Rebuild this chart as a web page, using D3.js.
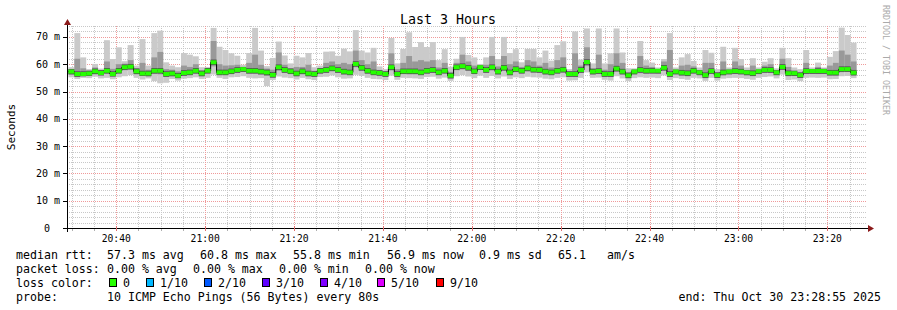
<!DOCTYPE html>
<html>
<head>
<meta charset="utf-8">
<script src="https://cdn.jsdelivr.net/npm/d3@7/dist/d3.min.js"></script>
<style>
body { margin: 0; background: #ffffff; }
text { font-family: "DejaVu Sans Mono", monospace; fill: #000; }
</style>
</head>
<body>
<script>
// ---------------------- data (ms) ----------------------
var graphStart = new Date(2025, 9, 30, 20, 28, 55);
var graphEnd   = new Date(2025, 9, 30, 23, 28, 55);
var firstBar   = new Date(2025, 9, 30, 20, 29, 14);
var stepSec    = 80;

var medianRtt = [57.3,56.4,56.4,56.6,57.4,56.8,57.6,56.4,57.6,58.9,
  59.1,57.4,56.6,56.6,57.6,57.6,56.4,56.6,55.8,56.8,
  57.0,57.6,56.6,57.6,60.7,57.0,57.0,57.4,57.9,58.2,
  57.6,57.6,57.3,57.0,56.1,58.9,57.9,57.4,56.6,57.4,
  56.6,56.4,57.6,57.9,58.5,57.9,57.3,57.0,60.1,58.7,
  57.6,57.0,56.8,56.4,58.9,56.4,57.4,57.4,57.4,57.0,
  57.6,57.9,57.0,57.6,55.8,58.9,59.3,58.7,57.4,58.9,
  57.9,58.9,57.3,58.7,57.0,58.2,57.6,58.5,58.0,57.9,
  57.3,57.0,57.6,58.0,56.4,56.4,57.9,60.8,57.3,57.5,
  56.4,56.4,58.4,57.3,55.9,57.3,57.9,57.6,57.6,57.6,
  58.7,56.4,57.3,56.9,56.7,57.6,57.0,56.0,57.5,56.0,
  57.0,57.3,57.5,57.3,57.0,56.7,57.4,57.9,57.9,57.0,
  59.0,56.7,56.7,56.0,57.5,57.5,57.5,57.5,56.9,56.9,
  58.2,58.2,56.9];

var pingMax = [58.9,71.4,62.5,58.2,60.1,58.4,68.8,61.9,66.2,61.1,
  67.0,59.5,69.2,59.5,71.4,72.3,60.7,59.5,58.9,64.1,
  63.5,62.9,58.9,59.0,73.3,66.4,65.2,64.0,63.1,59.8,
  64.1,73.3,65.0,59.3,62.3,68.3,63.2,60.3,63.1,62.5,
  64.1,58.9,59.5,64.6,64.7,63.1,65.7,64.7,72.5,65.0,
  64.3,66.0,59.2,58.2,69.6,60.3,65.6,71.7,66.3,68.1,
  66.3,68.1,61.5,65.5,59.1,62.0,70.0,63.4,62.5,60.1,
  62.5,70.0,61.9,70.0,64.1,65.5,60.7,65.6,65.6,62.5,
  65.0,61.3,67.0,68.4,58.2,72.0,61.7,73.1,60.3,73.1,
  60.3,64.0,73.1,64.3,58.5,58.5,68.5,61.5,60.6,58.8,
  61.9,71.4,58.8,62.5,63.7,61.2,58.8,65.2,64.2,58.2,
  66.4,58.8,66.0,61.9,58.8,62.2,58.8,60.9,62.2,58.5,
  66.0,62.2,58.8,58.2,65.2,58.8,60.6,58.8,62.7,64.8,
  73.4,70.7,67.9];

var pingHigh = [58.2,62.0,58.5,57.7,58.8,57.8,61.0,58.3,60.0,60.2,
  61.5,58.6,60.5,58.0,62.5,64.5,58.2,58.0,57.4,59.5,
  59.0,60.0,57.8,58.6,68.5,60.0,59.5,59.6,59.8,59.0,
  60.5,63.5,59.8,58.4,58.0,64.3,59.8,58.6,59.0,59.0,
  59.8,57.6,58.6,60.5,61.0,60.0,60.5,60.0,65.0,61.5,
  60.0,61.0,57.9,57.4,64.0,58.2,60.5,63.0,61.0,61.5,
  61.0,61.5,58.8,60.5,57.2,60.5,63.5,61.0,59.5,59.6,
  59.8,63.0,59.2,63.0,60.0,61.0,59.0,61.5,61.0,59.5,
  60.5,58.8,61.5,62.5,57.4,64.0,59.5,66.2,58.5,63.5,
  58.0,60.0,64.0,60.5,57.0,58.0,63.0,59.5,59.0,58.2,
  61.0,65.2,58.0,59.5,59.8,59.2,57.8,60.5,60.5,57.0,
  61.0,58.0,61.0,59.5,57.8,59.5,58.0,59.5,60.0,57.8,
  62.0,59.0,57.6,57.0,60.5,58.2,59.0,58.3,59.5,60.5,
  65.0,63.5,61.0];

var pingLow = [56.2,55.4,55.6,55.7,56.3,55.9,56.5,55.5,56.6,57.8,
  58.0,56.3,55.7,55.6,56.4,56.3,55.4,55.6,54.9,55.8,
  56.0,56.5,55.6,56.6,59.2,56.0,56.0,56.4,56.8,57.2,
  56.5,56.5,56.2,55.7,55.1,57.6,56.8,56.4,55.6,56.3,
  55.6,55.4,56.5,56.8,57.4,56.8,56.2,56.0,58.9,57.5,
  56.5,56.0,55.8,55.4,57.7,55.3,56.4,56.3,56.3,56.0,
  56.5,56.8,56.0,56.6,54.8,57.8,58.1,57.6,56.4,57.9,
  56.8,57.7,56.2,57.6,55.9,57.1,56.6,57.3,56.9,56.8,
  56.2,56.0,56.5,56.9,55.4,55.3,56.8,59.3,56.2,56.4,
  55.4,55.3,57.2,56.2,54.9,56.3,56.7,56.5,56.6,56.5,
  57.6,55.3,56.3,55.8,55.6,56.6,56.0,54.9,56.5,55.0,
  55.9,56.3,56.4,56.3,55.9,55.6,56.4,56.9,56.8,56.0,
  58.0,55.6,55.7,55.0,56.4,56.5,56.4,56.5,55.8,55.8,
  57.1,57.2,55.9];

var pingMin = [55.2,54.6,55.0,54.9,55.4,54.8,55.0,54.5,55.2,55.6,
  56.0,55.0,54.4,54.8,53.8,53.0,53.2,54.6,54.0,54.7,
  54.9,55.2,54.6,55.0,56.2,55.0,54.6,55.2,55.3,55.6,
  55.0,54.8,54.9,52.0,54.2,55.5,55.1,54.9,54.4,55.0,
  54.5,54.2,55.3,55.4,55.9,55.2,54.7,54.8,56.1,55.7,
  55.0,54.6,54.5,54.2,55.8,54.3,55.0,54.9,54.8,54.6,
  55.3,55.4,54.7,55.1,53.9,55.6,56.0,55.5,54.9,55.8,
  55.0,55.7,54.8,55.5,54.6,55.2,54.9,55.4,55.2,55.1,
  54.7,54.5,55.0,55.2,54.0,54.1,55.0,57.0,55.0,55.1,
  54.3,54.0,55.6,54.8,53.8,54.9,55.2,55.0,55.1,54.9,
  55.9,54.2,54.9,54.6,54.3,55.0,54.8,53.9,55.0,54.0,
  54.7,54.9,55.0,54.9,54.6,54.3,55.0,55.3,55.5,54.8,
  56.2,54.2,54.4,53.8,55.0,55.1,55.0,55.1,54.5,54.6,
  55.6,55.7,54.9];

var yTickValues = [0, 10, 20, 30, 40, 50, 60, 70];
var yTickLabels = ["0", "10 m", "20 m", "30 m", "40 m", "50 m", "60 m", "70 m"];

var lossColors = ["#26ff00", "#00b8ff", "#0059ff", "#5e00ff", "#7e00ff", "#dd00ff", "#ff0000"];
var lossLabels = ["0", "1/10", "2/10", "3/10", "4/10", "5/10", "9/10"];

var rttItems  = ["57.3 ms avg", "60.8 ms max", "55.8 ms min", "56.9 ms now", "0.9 ms sd", "65.1", "am/s"];
var lossItems = ["0.00 % avg", "0.00 % max", "0.00 % min", "0.00 % now"];

// ---------------------- canvas and scales ----------------------
var svg = d3.select("body")
     .append("svg")
     .attr("width", 897)
     .attr("height", 310);

svg.append("rect")
     .attr("width", 897)
     .attr("height", 310)
     .attr("fill", "#ffffff");

var x = d3.scaleTime().domain([graphStart, graphEnd]).range([67, 867]);
var y = d3.scaleLinear().domain([0, 74]).range([228, 26]);

// ---------------------- grid ----------------------
var minorT = x.ticks(d3.timeMinute.every(5));
var majorT = x.ticks(d3.timeMinute.every(20));
var minorV = d3.range(0, 75, 2);

var grid = svg.append("g");
grid.selectAll("line.hmin").data(minorV).enter().append("line")
     .attr("x1", 67).attr("x2", 867)
     .attr("y1", d => Math.round(y(d)) + 0.5).attr("y2", d => Math.round(y(d)) + 0.5)
     .attr("stroke", "#c8c8c8").attr("stroke-dasharray", "1,1");
grid.selectAll("line.vmin").data(minorT).enter().append("line")
     .attr("x1", d => Math.round(x(d)) + 0.5).attr("x2", d => Math.round(x(d)) + 0.5)
     .attr("y1", 26).attr("y2", 228)
     .attr("stroke", "#c8c8c8").attr("stroke-dasharray", "1,1");
grid.selectAll("line.hmaj").data(yTickValues).enter().append("line")
     .attr("x1", 67).attr("x2", 867)
     .attr("y1", d => Math.round(y(d)) + 0.5).attr("y2", d => Math.round(y(d)) + 0.5)
     .attr("stroke", "#f09a9a").attr("stroke-dasharray", "1,1");
grid.selectAll("line.vmaj").data(majorT).enter().append("line")
     .attr("x1", d => Math.round(x(d)) + 0.5).attr("x2", d => Math.round(x(d)) + 0.5)
     .attr("y1", 26).attr("y2", 228)
     .attr("stroke", "#f09a9a").attr("stroke-dasharray", "1,1");

// ---------------------- smoke ----------------------
function barX0(i) { return x(new Date(firstBar.getTime() + i * stepSec * 1000)); }
function barX1(i) { return x(new Date(firstBar.getTime() + (i + 1) * stepSec * 1000)); }

var smoke = svg.append("g");
smoke.selectAll("rect.outer").data(medianRtt).enter().append("rect")
     .attr("x", (d, i) => barX0(i)).attr("width", (d, i) => barX1(i) - barX0(i))
     .attr("y", (d, i) => y(pingMax[i])).attr("height", (d, i) => y(pingMin[i]) - y(pingMax[i]))
     .attr("fill", "#cacaca");
smoke.selectAll("rect.inner").data(medianRtt).enter().append("rect")
     .attr("x", (d, i) => barX0(i)).attr("width", (d, i) => barX1(i) - barX0(i))
     .attr("y", (d, i) => y(pingHigh[i])).attr("height", (d, i) => y(pingLow[i]) - y(pingHigh[i]))
     .attr("fill", "#999999");
smoke.selectAll("rect.core").data(medianRtt).enter().append("rect")
     .attr("x", (d, i) => barX0(i)).attr("width", (d, i) => barX1(i) - barX0(i))
     .attr("y", (d, i) => y(Math.min(pingHigh[i], d + 1.0)))
     .attr("height", (d, i) => y(Math.max(pingLow[i], d - 1.0)) - y(Math.min(pingHigh[i], d + 1.0)))
     .attr("fill", "#505050");

// ---------------------- median line + loss colour ----------------------
var steps = medianRtt.map((d, i) => [barX0(i), y(d)]);
steps.push([barX1(medianRtt.length - 1), y(medianRtt[medianRtt.length - 1])]);

svg.append("path")
     .attr("d", d3.line().curve(d3.curveStepAfter)(steps))
     .attr("fill", "none")
     .attr("stroke", "#000")
     .attr("stroke-width", 1);

svg.append("g").selectAll("rect").data(medianRtt).enter().append("rect")
     .attr("x", (d, i) => barX0(i)).attr("width", (d, i) => barX1(i) - barX0(i))
     .attr("y", d => y(d + 0.73)).attr("height", d => y(d - 0.73) - y(d + 0.73))
     .attr("fill", lossColors[0]);

// ---------------------- axes ----------------------
svg.append("line").attr("x1", 63).attr("x2", 869).attr("y1", 228.5).attr("y2", 228.5)
     .attr("stroke", "#000");
svg.append("line").attr("x1", 67.5).attr("x2", 67.5).attr("y1", 232).attr("y2", 24)
     .attr("stroke", "#000");
svg.append("path").attr("d", "M868,225 L874,228.5 L868,232 Z").attr("fill", "#8b1a1a");
svg.append("path").attr("d", "M64,25 L67.5,19 L71,25 Z").attr("fill", "#8b1a1a");

svg.selectAll("line.xmin").data(minorT).enter().append("line")
     .attr("x1", d => Math.round(x(d)) + 0.5).attr("x2", d => Math.round(x(d)) + 0.5)
     .attr("y1", 229).attr("y2", 231)
     .attr("stroke", "#b0b0b0");
svg.selectAll("line.xmaj").data(majorT).enter().append("line")
     .attr("x1", d => Math.round(x(d)) + 0.5).attr("x2", d => Math.round(x(d)) + 0.5)
     .attr("y1", 226).attr("y2", 231)
     .attr("stroke", "#e07070");
svg.selectAll("line.ytk").data(yTickValues).enter().append("line")
     .attr("x1", 63).attr("x2", 67)
     .attr("y1", d => Math.round(y(d)) + 0.5).attr("y2", d => Math.round(y(d)) + 0.5)
     .attr("stroke", "#000");

svg.selectAll("text.xl").data(majorT).enter().append("text")
     .text(d3.timeFormat("%H:%M"))
     .attr("x", d => x(d)).attr("y", 242)
     .attr("text-anchor", "middle")
     .style("font-size", "9.7px");

svg.selectAll("text.yl").data(yTickValues).enter().append("text")
     .text((d, i) => yTickLabels[i])
     .attr("x", d => d === 0 ? 50 : 60)
     .attr("y", d => y(d) + 3.5)
     .attr("text-anchor", "end")
     .style("font-size", "10px");

svg.append("text")
     .text("Seconds")
     .attr("transform", "translate(15,127) rotate(-90)")
     .attr("text-anchor", "middle")
     .style("font-size", "11px");

svg.append("text")
     .text("Last 3 Hours")
     .attr("x", 448).attr("y", 24)
     .attr("text-anchor", "middle")
     .style("font-size", "13.3px");

svg.append("text")
     .text("RRDTOOL / TOBI OETIKER")
     .attr("transform", "translate(883,5) rotate(90)")
     .style("font-size", "8.3px")
     .style("fill", "#aaaaaa");

// ---------------------- legend ----------------------
var legend = svg.append("g").style("font-size", "11.6px");

legend.append("text").text("median rtt:").attr("x", 16).attr("y", 258.5);
legend.selectAll("text.rtt").data(rttItems).enter().append("text")
     .text(d => d)
     .attr("x", (d, i) => [107, 200, 293, 387, 479, 558, 607][i])
     .attr("y", 258.5);

legend.append("text").text("packet loss:").attr("x", 16).attr("y", 272.5);
legend.selectAll("text.loss").data(lossItems).enter().append("text")
     .text(d => d)
     .attr("x", (d, i) => [107, 193, 279, 365][i])
     .attr("y", 272.5);

legend.append("text").text("loss color:").attr("x", 16).attr("y", 286.5);
var boxX = [109, 146, 204, 262, 320, 377, 436];
legend.selectAll("rect.lc").data(lossColors).enter().append("rect")
     .attr("x", (d, i) => boxX[i] + 0.5).attr("y", 278.5)
     .attr("width", 7).attr("height", 8)
     .attr("fill", d => d)
     .attr("stroke", "#000");
legend.selectAll("text.lc").data(lossLabels).enter().append("text")
     .text(d => d)
     .attr("x", (d, i) => boxX[i] + 14)
     .attr("y", 286.5);

legend.append("text").text("probe:").attr("x", 16).attr("y", 300.5);
legend.append("text").text("10 ICMP Echo Pings (56 Bytes) every 80s").attr("x", 107).attr("y", 300.5);
legend.append("text").text("end: Thu Oct 30 23:28:55 2025").attr("x", 881).attr("y", 300.5)
     .attr("text-anchor", "end");
</script>
</body>
</html>
